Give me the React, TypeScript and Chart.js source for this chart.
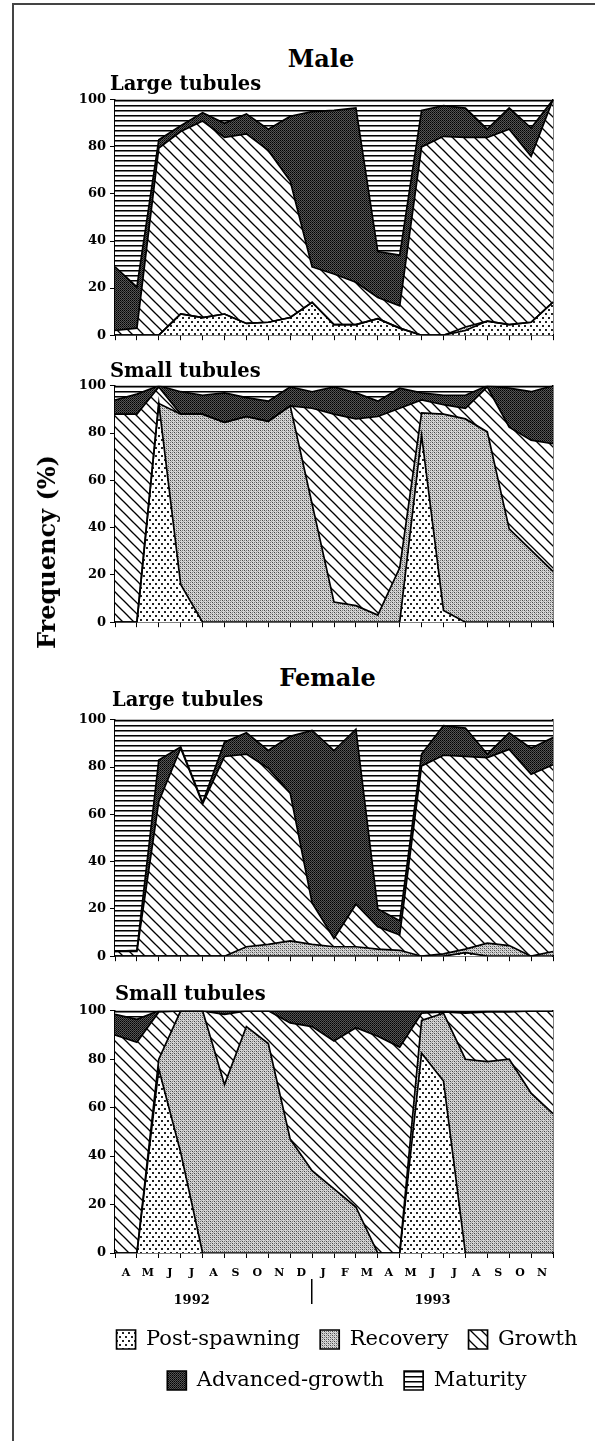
import React, { useEffect, useRef } from 'react';
import { Chart, registerables } from 'chart.js';

Chart.register(...registerables);

const SERIF = '"DejaVu Serif", "Liberation Serif", serif';

// Sampling dates (21 samples, tick marks), month labels between ticks
const SAMPLE_LABELS = ['s1', 's2', 's3', 's4', 's5', 's6', 's7', 's8', 's9', 's10', 's11', 's12', 's13', 's14', 's15', 's16', 's17', 's18', 's19', 's20', 's21'];
const MONTHS = ['A', 'M', 'J', 'J', 'A', 'S', 'O', 'N', 'D', 'J', 'F', 'M', 'A', 'M', 'J', 'J', 'A', 'S', 'O', 'N'];
const YEAR_LABELS = ['', '', '', '1992', '', '', '', '', '', '', '', '', '', '', '1993', '', '', '', '', ''];
const YEAR_SPLIT_INDEX = 9;
const Y_TICKS = [0, 20, 40, 60, 80, 100];
const STAGES = ['Post-spawning', 'Recovery', 'Growth', 'Advanced-growth', 'Maturity'];

// Male - large tubules (%)
const maleLargePost = [0, 0, 0, 9, 7.5, 9, 5, 5.5, 7.5, 14, 4.5, 4.5, 7, 3, 0, 0, 2, 6, 4.5, 5.5, 14];
const maleLargeRec = [0, 0, 0, 0, 0, 0, 0, 0, 0, 0, 0, 0, 0, 0, 0, 0, 1.5, 0, 0, 0, 0];
const maleLargeGro = [2, 3, 79.5, 77.5, 83.5, 75, 80.5, 73, 58, 15, 21.5, 18, 9, 9.5, 80, 84.5, 80.5, 78, 83, 70.5, 86];
const maleLargeAdv = [27, 17.5, 3.5, 2.5, 3.5, 6, 8.5, 9, 27.5, 66, 69.5, 74, 19.5, 21.5, 15.5, 13, 12.5, 3.5, 9, 12, 0];
const maleLargeMat = [71, 79.5, 17, 11, 5.5, 10, 6, 12.5, 7, 5, 4.5, 3.5, 64.5, 66, 4.5, 2.5, 3.5, 12.5, 3.5, 12, 0];

// Male - small tubules (%)
const maleSmallPost = [0, 0, 92.5, 16, 0, 0, 0, 0, 0, 0, 0, 0, 0, 0, 79, 5, 0, 0, 0, 0, 0];
const maleSmallRec = [0, 0, 0, 72, 88, 84.5, 87, 85, 91.5, 50, 8.5, 7, 3, 23, 9.5, 83, 86, 80.5, 39.5, 30.5, 21.5];
const maleSmallGro = [88, 88, 7, 0, 0, 0, 0, 0, 0, 40.5, 79.5, 79, 84, 67.5, 5.5, 4, 4.5, 19, 43, 46.5, 54];
const maleSmallAdv = [6, 8.5, 0.5, 9.5, 8, 12.5, 8, 8.5, 8, 7, 11.5, 11, 6.5, 8.5, 3, 4, 5.5, 0.5, 16.5, 20.5, 24.5];
const maleSmallMat = [6, 3.5, 0, 2.5, 4, 3, 5, 6.5, 0.5, 2.5, 0.5, 3, 6.5, 1, 3, 4, 4, 0, 1, 2.5, 0];

// Female - large tubules (%)
const femaleLargePost = [0, 0, 0, 0, 0, 0, 0, 0, 0, 0, 0, 0, 0, 0, 0, 0, 1.5, 0, 0, 0, 0];
const femaleLargeRec = [0, 0, 0, 0, 0, 0, 4, 5, 6.5, 5, 4, 4, 3, 2.5, 0, 1, 1.5, 5.5, 4.5, 0, 2];
const femaleLargeGro = [2, 2, 65.5, 88, 64.5, 84.5, 81.5, 74.5, 62.5, 17.5, 3.5, 18, 9.5, 6.5, 80.5, 84, 81.5, 78.5, 83, 77, 79];
const femaleLargeAdv = [0, 0.5, 17.5, 0.5, 0.5, 6, 9, 7.5, 24, 73, 79.5, 74, 7.5, 6, 5, 12.5, 12, 1.5, 7, 11, 11.5];
const femaleLargeMat = [98, 97.5, 17, 11.5, 35, 9.5, 5.5, 13, 7, 4.5, 13, 4, 80, 85, 14.5, 2.5, 3.5, 14.5, 5.5, 12, 7.5];

// Female - small tubules (%)
const femaleSmallPost = [0, 0, 76, 41.5, 0, 0, 0, 0, 0, 0, 0, 0, 0, 0, 82.5, 71, 0, 0, 0, 0, 0];
const femaleSmallRec = [0, 0, 4, 58.5, 100, 69.5, 93.5, 86.5, 47, 34, 26.5, 19, 0, 0, 13.5, 28, 80, 79, 80, 66, 57.5];
const femaleSmallGro = [90, 87, 19.5, 0, 0, 29, 6.5, 13.5, 48, 59.5, 61, 74, 89.5, 85, 3, 0.5, 19, 20.5, 19.5, 34, 42.5];
const femaleSmallAdv = [8.5, 9.5, 0.5, 0, 0, 1.5, 0, 0, 5, 6.5, 12.5, 7, 10.5, 15, 1, 0.5, 0.5, 0.5, 0.5, 0, 0];
const femaleSmallMat = [1.5, 3.5, 0, 0, 0, 0, 0, 0, 0, 0, 0, 0, 0, 0, 0, 0, 0.5, 0, 0, 0, 0];

type Series = number[][];

function makePatterns() {
  const mk = (w: number, h: number, draw: (g: CanvasRenderingContext2D) => void) => {
    const c = document.createElement('canvas');
    c.width = w;
    c.height = h;
    const g = c.getContext('2d') as CanvasRenderingContext2D;
    draw(g);
    return g.createPattern(c, 'repeat') as CanvasPattern;
  };
  const post = mk(6, 8, (g) => {
    g.fillStyle = '#fff';
    g.fillRect(0, 0, 6, 8);
    g.fillStyle = '#222';
    g.fillRect(1, 1, 2, 2);
    g.fillRect(4, 5, 2, 2);
  });
  const rec = mk(4, 4, (g) => {
    g.fillStyle = '#d6d6d6';
    g.fillRect(0, 0, 4, 4);
    g.fillStyle = '#444';
    g.fillRect(0, 0, 1, 1);
    g.fillRect(2, 2, 1, 1);
    g.fillStyle = '#7a7a7a';
    g.fillRect(2, 0, 1, 1);
    g.fillRect(0, 2, 1, 1);
    g.fillStyle = '#a5a5a5';
    g.fillRect(1, 1, 1, 1);
    g.fillRect(3, 3, 1, 1);
  });
  const gro = mk(11, 11, (g) => {
    g.fillStyle = '#fff';
    g.fillRect(0, 0, 11, 11);
    g.strokeStyle = '#000';
    g.lineWidth = 1.3;
    for (let k = -1; k <= 1; k++) {
      g.beginPath();
      g.moveTo(-2, -2 + 11 * k);
      g.lineTo(13, 13 + 11 * k);
      g.stroke();
    }
  });
  const adv = mk(2, 2, (g) => {
    g.fillStyle = '#555';
    g.fillRect(0, 0, 2, 2);
    g.fillStyle = '#000';
    g.fillRect(0, 0, 1, 1);
    g.fillStyle = '#1c1c1c';
    g.fillRect(1, 1, 1, 1);
  });
  const mat = mk(4, 5, (g) => {
    g.fillStyle = '#fff';
    g.fillRect(0, 0, 4, 5);
    g.fillStyle = '#000';
    g.fillRect(0, 2, 4, 1);
    g.fillStyle = '#777';
    g.fillRect(0, 3, 4, 1);
  });
  return [post, rec, gro, adv, mat];
}

function buildConfig(series: Series, bottom: boolean): any {
  const pats = makePatterns();
  const datasets = series.map((vals, k) => ({
    label: STAGES[k],
    data: vals,
    backgroundColor: pats[k],
    borderColor: '#000',
    borderWidth: 1.7,
    pointRadius: 0,
    pointHoverRadius: 0,
    tension: 0,
    fill: k === 0 ? 'origin' : '-1',
    xAxisID: 'x',
    yAxisID: 'y',
  }));

  const scales: any = {
    x: {
      type: 'category',
      labels: SAMPLE_LABELS,
      offset: false,
      position: 'bottom',
      weight: 0,
      grid: { display: true, drawOnChartArea: false, drawTicks: true, tickLength: 5, color: '#000', lineWidth: 1 },
      border: { display: true, color: '#000', width: 1.5 },
      ticks: { display: false, autoSkip: false },
      afterFit: (s: any) => { s.height = 6; },
    },
    y: {
      type: 'linear',
      stacked: true,
      min: 0,
      max: 100,
      position: 'left',
      afterBuildTicks: (s: any) => { s.ticks = Y_TICKS.map((v) => ({ value: v })); },
      grid: { display: true, drawOnChartArea: false, drawTicks: true, tickLength: 5, color: '#000', lineWidth: 1 },
      border: { display: true, color: '#000', width: 1.5 },
      ticks: { font: { family: SERIF, size: 13, weight: 'bold' }, color: '#000', padding: 4 },
      afterFit: (s: any) => { s.width = 75; },
    },
    yr: {
      type: 'linear',
      min: 0,
      max: 100,
      position: 'right',
      grid: { display: true, drawOnChartArea: false, drawTicks: false },
      border: { display: true, color: '#000', width: 1.5 },
      ticks: { display: false },
      afterFit: (s: any) => { s.width = 101; },
    },
  };

  if (bottom) {
    scales.xm = {
      type: 'category',
      labels: MONTHS,
      offset: true,
      position: 'bottom',
      weight: 1,
      grid: { display: false, drawTicks: false, drawOnChartArea: false },
      border: { display: false },
      ticks: { font: { family: SERIF, size: 11, weight: 'bold' }, color: '#000', padding: 8, autoSkip: false, maxRotation: 0 },
      afterFit: (s: any) => { s.height = 20; },
    };
    scales.xy = {
      type: 'category',
      labels: YEAR_LABELS,
      offset: true,
      position: 'bottom',
      weight: 2,
      grid: {
        display: true,
        offset: true,
        drawOnChartArea: false,
        drawTicks: true,
        tickLength: 25,
        lineWidth: 1.5,
        color: (c: any) => (c.index === YEAR_SPLIT_INDEX ? '#000' : 'rgba(0,0,0,0)'),
      },
      border: { display: false },
      ticks: { font: { family: SERIF, size: 13, weight: 'bold' }, color: '#000', padding: -11, autoSkip: false, maxRotation: 0 },
      afterFit: (s: any) => { s.height = 30; },
    };
  }

  return {
    type: 'line',
    data: { labels: SAMPLE_LABELS, datasets },
    options: {
      responsive: false,
      animation: false,
      events: [],
      layout: { padding: { top: 10, left: 0, right: 46, bottom: 0 } },
      scales,
      plugins: {
        filler: { drawTime: 'beforeDatasetsDraw' },
        tooltip: { enabled: false },
        title: { display: false },
        legend: {
          display: bottom,
          position: 'bottom',
          labels: {
            font: { family: SERIF, size: 21 },
            color: '#000',
            boxWidth: 19,
            boxHeight: 19,
            padding: 20,
          },
        },
      },
    },
  };
}

function Panel({ series, bottom, top, height }: { series: Series; bottom: boolean; top: number; height: number }) {
  const ref = useRef<HTMLCanvasElement | null>(null);
  useEffect(() => {
    if (!ref.current) return;
    const chart = new Chart(ref.current, buildConfig(series, bottom));
    return () => chart.destroy();
  }, [series, bottom]);
  return (
    <canvas
      ref={ref}
      width={660}
      height={height}
      style={{ position: 'absolute', left: 40, top, width: 660, height }}
    />
  );
}

const txt = (extra: React.CSSProperties): React.CSSProperties => ({
  position: 'absolute',
  fontFamily: SERIF,
  fontWeight: 'bold',
  lineHeight: 1,
  whiteSpace: 'nowrap',
  color: '#000',
  zIndex: 2,
  ...extra,
});

const MALE_LARGE: Series = [maleLargePost, maleLargeRec, maleLargeGro, maleLargeAdv, maleLargeMat];
const MALE_SMALL: Series = [maleSmallPost, maleSmallRec, maleSmallGro, maleSmallAdv, maleSmallMat];
const FEMALE_LARGE: Series = [femaleLargePost, femaleLargeRec, femaleLargeGro, femaleLargeAdv, femaleLargeMat];
const FEMALE_SMALL: Series = [femaleSmallPost, femaleSmallRec, femaleSmallGro, femaleSmallAdv, femaleSmallMat];

export default function App() {
  return (
    <div
      style={{
        position: 'fixed',
        left: 0,
        top: 0,
        width: 595,
        height: 1441,
        overflow: 'hidden',
        background: '#fff',
      }}
    >
      <div
        style={{
          position: 'absolute',
          left: 12,
          top: 3,
          width: 600,
          height: 1460,
          borderLeft: '2px solid #444',
          borderTop: '2px solid #444',
        }}
      />
      <Panel series={MALE_LARGE} bottom={false} top={88} height={259} />
      <Panel series={MALE_SMALL} bottom={false} top={374} height={260} />
      <Panel series={FEMALE_LARGE} bottom={false} top={708} height={260} />
      <Panel series={FEMALE_SMALL} bottom={true} top={999} height={402} />

      <div style={txt({ left: 321, top: 46.5, fontSize: 24, transform: 'translateX(-50%)' })}>Male</div>
      <div style={txt({ left: 110, top: 73.5, fontSize: 19.5 })}>Large tubules</div>
      <div style={txt({ left: 110, top: 360.5, fontSize: 19.5 })}>Small tubules</div>
      <div style={txt({ left: 327.5, top: 665.5, fontSize: 24, transform: 'translateX(-50%)' })}>Female</div>
      <div style={txt({ left: 112, top: 690, fontSize: 19.5 })}>Large tubules</div>
      <div style={txt({ left: 115, top: 983.5, fontSize: 19.5 })}>Small tubules</div>
      <div
        style={txt({
          left: 47,
          top: 552,
          fontSize: 24,
          transform: 'translate(-50%, -50%) rotate(-90deg)',
        })}
      >
        Frequency (%)
      </div>
    </div>
  );
}
